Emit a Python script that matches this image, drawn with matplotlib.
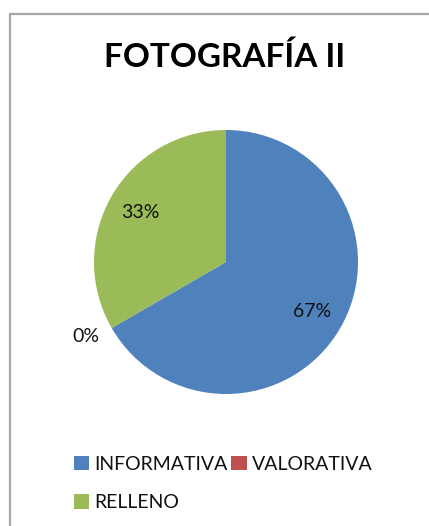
import numpy as np
import matplotlib.pyplot as plt
from matplotlib.patches import Rectangle

plt.rcParams['font.family'] = ['Lato', 'DejaVu Sans']

# datos del grafico
categorias = ['INFORMATIVA', 'VALORATIVA', 'RELLENO']
valores = [2, 0, 1]
colores = ['#4F81BD', '#C0504D', '#9BBB59']
titulo = 'FOTOGRAFÍA II'

W, H = 429, 526
fig = plt.figure(figsize=(W / 100, H / 100), dpi=100)

# marco gris del area del grafico
fig.patches.append(Rectangle((9.5 / W, -0.1), 1.2, 1 - 13.5 / H + 0.1,
                             transform=fig.transFigure, fill=False,
                             edgecolor='#a6a6a6', linewidth=1.6))

fig.text(225 / W, 1 - 57 / H, titulo, ha='center', va='center',
         fontsize=24, fontweight='bold', color='black')

cx, cy, r = 226, 262, 132
ax = fig.add_axes([(cx - r) / W, (H - cy - r) / H, 2 * r / W, 2 * r / H])
wedges, texts, autotexts = ax.pie(valores, colors=colores, startangle=90,
                                  counterclock=False, autopct='%.0f%%',
                                  pctdistance=0.75,
                                  textprops={'fontsize': 14, 'color': '#111111'})
ax.set_xlim(-1, 1)
ax.set_ylim(-1, 1)
ax.set_aspect('equal')
ax.axis('off')

# la etiqueta del 0% va fuera del circulo
for w, t, v in zip(wedges, autotexts, valores):
    if v == 0:
        ang = np.deg2rad(w.theta1 - 2)
        t.set_position((1.2 * np.cos(ang), 1.2 * np.sin(ang)))
        t.set_clip_on(False)

orden = [0, 2, 1]
fig.legend([wedges[i] for i in orden], [categorias[i] for i in orden],
           ncol=2, loc='upper left', bbox_to_anchor=(56 / W, 1 - 438 / H),
           frameon=False, fontsize=14, handlelength=0.8, handleheight=0.8,
           handletextpad=0.25, columnspacing=0.2, labelspacing=1.1,
           labelcolor='#111111')

fig.savefig('out.png', dpi=100)
